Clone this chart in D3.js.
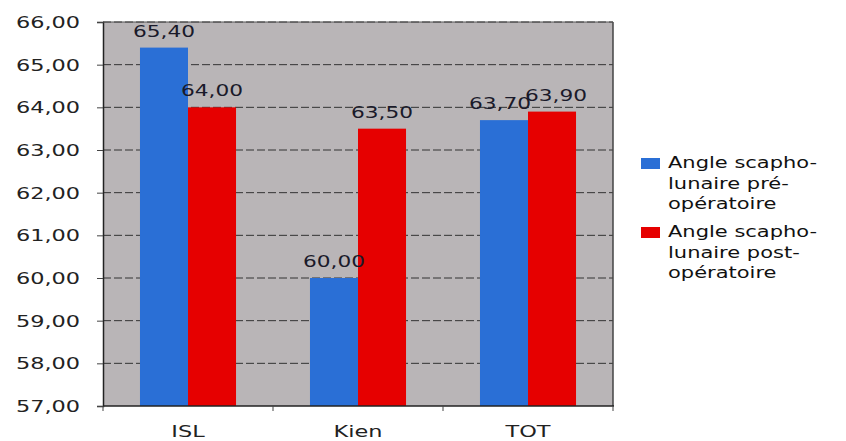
<!DOCTYPE html>
<html><head><meta charset="utf-8">
<script src="https://cdn.jsdelivr.net/npm/d3@7"></script>
<style>body{margin:0;background:#fff}svg{display:block}</style>
</head><body>
<svg id="c" width="846" height="441"></svg>
<script>
const categories = ["ISL", "Kien", "TOT"];
const seriesPre = [65.40, 60.00, 63.70];
const seriesPost = [64.00, 63.50, 63.90];
const seriesNames = [["Angle scapho-", "lunaire pré-", "opératoire"], ["Angle scapho-", "lunaire post-", "opératoire"]];
const yTicks = [57, 58, 59, 60, 61, 62, 63, 64, 65, 66];

const colors = ["#2a6fd6", "#e60000"];
const SX = 1.4;
const fmt = v => v.toFixed(2).replace(".", ",");
const svg = d3.select("#c");
const L = 103, R = 613, T = 22, B = 406;

const x = d3.scaleBand().domain(categories).range([L, R]).paddingInner(0.435).paddingOuter(0.2175);
const xs = d3.scaleBand().domain([0, 1]).range([0, x.bandwidth()]);
const y = d3.scaleLinear().domain([57, 66]).range([B, T]);

svg.append("rect").attr("x", L).attr("y", T).attr("width", R - L).attr("height", B - T).attr("fill", "#b9b5b7");

// gridlines
svg.append("g").selectAll("line").data(yTicks.filter(t => t > 57)).join("line")
  .attr("x1", L).attr("x2", R).attr("y1", d => y(d)).attr("y2", d => y(d))
  .attr("stroke", "#333").attr("stroke-width", 1).attr("stroke-dasharray", "8,3");

// bars
const series = [seriesPre, seriesPost];
const g = svg.append("g");
categories.forEach((c, i) => {
  series.forEach((s, j) => {
    g.append("rect").attr("x", x(c) + xs(j)).attr("y", y(s[i]))
      .attr("width", xs.bandwidth()).attr("height", B - y(s[i])).attr("fill", colors[j]);
  });
});

// axes
const ya = svg.append("g").attr("transform", `translate(${L},0)`).call(d3.axisLeft(y).tickValues(yTicks).tickSize(6).tickFormat(""));
ya.select(".domain").attr("stroke", "#222").attr("stroke-width", 1.5);
ya.selectAll(".tick line").attr("stroke", "#444");
svg.append("line").attr("x1", R).attr("x2", R).attr("y1", T).attr("y2", B).attr("stroke", "#444").attr("stroke-width", 1.5);
svg.append("line").attr("x1", L).attr("x2", R).attr("y1", T).attr("y2", T).attr("stroke", "#555").attr("stroke-width", 1);
svg.append("line").attr("x1", L).attr("x2", R + 1).attr("y1", B).attr("y2", B).attr("stroke", "#222").attr("stroke-width", 1.5);
// bottom ticks at band boundaries
const bounds = [L, ...categories.slice(1).map(c => x(c) - x.step() * x.paddingInner() / 2), R];
svg.append("g").selectAll("line").data(bounds).join("line")
  .attr("x1", d => d).attr("x2", d => d).attr("y1", B).attr("y2", B + 5).attr("stroke", "#444");

const font = "DejaVu Sans, Verdana, sans-serif";
function txt(xp, yp, s, anchor, size, fill) {
  return svg.append("text").attr("transform", `translate(${xp},${yp}) scale(${SX},1)`)
    .attr("text-anchor", anchor).attr("font-family", font).attr("font-size", size).attr("fill", fill).text(s);
}
yTicks.forEach(t => txt(80, y(t) + 6, fmt(t), "end", 16, "#222"));
categories.forEach(c => txt(x(c) + x.bandwidth() / 2, 437, c, "middle", 16, "#222"));

// data labels (nudged apart slightly where neighbours are close)
categories.forEach((c, i) => {
  const close = Math.abs(seriesPre[i] - seriesPost[i]) < 0.5;
  series.forEach((s, j) => {
    const dx = close ? (j === 0 ? -4 : 4) : 0;
    txt(x(c) + xs(j) + xs.bandwidth() / 2 + dx, y(s[i]) - 11, fmt(s[i]), "middle", 15.5, "#1a1a2a");
  });
});

// legend
const legY = [158, 227];
seriesNames.forEach((lines, j) => {
  svg.append("rect").attr("x", 641).attr("y", legY[j]).attr("width", 19).attr("height", 11).attr("fill", colors[j]);
  lines.forEach((ln, k) => txt(668, legY[j] + 10 + k * 20.5, ln, "start", 15, "#111"));
});
</script>
</body></html>
